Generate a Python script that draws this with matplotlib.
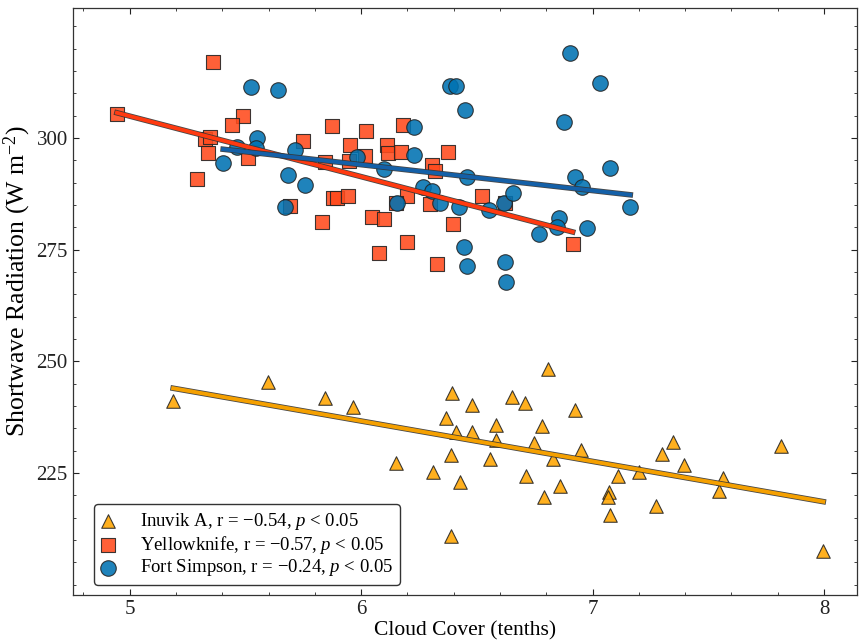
import numpy as np
import matplotlib
matplotlib.use("Agg")
import matplotlib.pyplot as plt
import matplotlib.patheffects as pe
from matplotlib.ticker import MultipleLocator, FixedLocator

plt.rcParams['font.family'] = ['Liberation Serif', 'DejaVu Serif']
plt.rcParams['mathtext.fontset'] = 'custom'
plt.rcParams['mathtext.rm'] = 'Liberation Serif'
plt.rcParams['mathtext.it'] = 'Liberation Serif:italic'

# Inuvik A
inuvik_x = [5.188, 5.599, 5.844, 5.964, 6.393, 6.478, 6.366, 6.411, 6.478, 6.389,
            6.150, 6.312, 6.429, 6.389, 6.806, 6.651, 6.708, 6.924, 6.582, 6.780,
            6.582, 6.748, 6.949, 6.828, 6.557, 6.713, 6.860, 6.790, 7.109, 7.202,
            7.071, 7.066, 7.076, 7.274, 7.300, 7.349, 7.397, 7.563, 7.545, 7.815, 7.997]
inuvik_y = [241.2, 245.3, 241.9, 239.8, 242.8, 240.2, 237.4, 234.2, 234.2, 229.0,
            227.2, 225.2, 223.0, 210.9, 248.3, 242.1, 240.7, 239.1, 235.8, 235.5,
            232.4, 231.7, 230.2, 228.1, 228.1, 224.3, 222.1, 219.7, 224.3, 225.3,
            220.8, 219.7, 215.6, 217.7, 229.3, 232.0, 226.8, 223.8, 221.0, 231.1, 207.5]

# Yellowknife
yk_x = [4.945, 5.327, 5.347, 5.340, 5.290, 5.361, 5.488, 5.441, 5.513, 5.748,
        5.873, 6.021, 5.952, 6.017, 5.949, 5.844, 6.181, 6.111, 6.118, 6.172,
        6.376, 6.305, 6.319, 6.197, 6.298, 6.151, 5.693, 5.879, 5.897, 5.945,
        5.830, 6.046, 6.100, 6.521, 6.622, 6.398, 6.327, 6.914, 6.197, 6.077]
yk_y = [305.4, 299.8, 300.3, 296.6, 290.8, 317.1, 304.9, 302.8, 295.5, 299.3,
        302.7, 301.6, 298.4, 296.0, 294.9, 294.6, 302.8, 298.4, 296.6, 296.9,
        296.8, 294.0, 292.7, 286.9, 285.2, 285.5, 284.8, 286.5, 286.6, 287.0,
        281.3, 282.4, 281.8, 286.9, 285.4, 280.8, 271.8, 276.3, 276.8, 274.3]

# Fort Simpson
fs_x = [5.523, 5.640, 5.551, 5.465, 5.546, 5.404, 5.714, 5.685, 5.759, 5.671,
        5.981, 6.099, 6.229, 6.229, 6.267, 6.305, 6.342, 6.154, 6.384, 6.408,
        6.448, 6.424, 6.459, 6.554, 6.617, 6.658, 6.902, 7.032, 6.877, 7.076,
        6.923, 6.953, 7.163, 6.857, 6.845, 6.770, 6.978, 6.445, 6.456, 6.622, 6.624]
fs_y = [311.5, 310.7, 300.1, 297.9, 297.8, 294.3, 297.2, 291.7, 289.5, 284.6,
        295.7, 293.0, 302.4, 296.1, 289.0, 288.2, 285.4, 285.5, 311.6, 311.6,
        306.3, 284.6, 291.3, 283.9, 285.4, 287.6, 319.0, 312.4, 303.6, 293.2,
        291.3, 289.1, 284.5, 282.1, 280.1, 278.5, 279.8, 275.7, 271.4, 272.2, 267.7]

labels = ['Inuvik A, r = \u22120.54, $p$ < 0.05',
          'Yellowknife, r = \u22120.57, $p$ < 0.05',
          'Fort Simpson, r = \u22120.24, $p$ < 0.05']

x_ticks = [5, 6, 7, 8]
y_ticks = [225, 250, 275, 300]

fig = plt.figure(figsize=(8.6, 6.43), dpi=100)
ax = fig.add_axes([0.0845, 0.0747, 0.912, 0.9129])

series = [
    (inuvik_x, inuvik_y, '^', '#FFA500', '#F5A000', 95, labels[0]),
    (yk_x, yk_y, 's', '#FF4A1C', '#FF3A10', 110, labels[1]),
    (fs_x, fs_y, 'o', '#0072B2', '#1460A8', 125, labels[2]),
]

for xs, ys, mk, fc, lc, size, lab in series:
    ax.scatter(np.array(xs), np.array(ys), marker=mk, s=size, facecolor=fc,
               edgecolor='#222222', linewidth=0.8, alpha=0.88, label=lab, zorder=3)

for xs, ys, mk, fc, lc, size, lab in series:
    xs = np.array(xs); ys = np.array(ys)
    k, b = np.polyfit(xs, ys, 1)
    xx = np.array([xs.min(), xs.max()])
    ax.plot(xx, k * xx + b, color=lc, lw=2.8, zorder=4,
            path_effects=[pe.Stroke(linewidth=4.0, foreground='#333333', alpha=0.9), pe.Normal()])

ax.set_xlim(4.7537, 8.1426)
ax.set_ylim(197.7, 329.1)
ax.xaxis.set_major_locator(FixedLocator(x_ticks))
ax.xaxis.set_minor_locator(MultipleLocator(0.2))
ax.yaxis.set_major_locator(FixedLocator(y_ticks))
ax.yaxis.set_minor_locator(MultipleLocator(5))
ax.tick_params(which='both', direction='in', top=True, right=True, labelsize=15, colors='#222222')
ax.tick_params(which='major', length=4, width=0.8)
ax.tick_params(which='minor', length=2, width=0.6)
for sp in ax.spines.values():
    sp.set_color('#333333')
    sp.set_linewidth(0.9)

ax.set_xlabel('Cloud Cover (tenths)', fontsize=15.5, labelpad=2)
ax.set_ylabel(r'Shortwave Radiation (W m$^{-2}$)', fontsize=18.5)
ax.yaxis.set_label_coords(-0.05, 0.535)

leg = ax.legend(loc='lower left', bbox_to_anchor=(0.027, 0.017), borderaxespad=0,
                fontsize=13.5, frameon=True, fancybox=True, framealpha=1,
                edgecolor='#333333', scatterpoints=1, handlelength=0.8,
                handletextpad=1.3, labelspacing=0.1, borderpad=0.35)
leg.get_frame().set_linewidth(1.0)

fig.savefig('out.png', dpi=100)
